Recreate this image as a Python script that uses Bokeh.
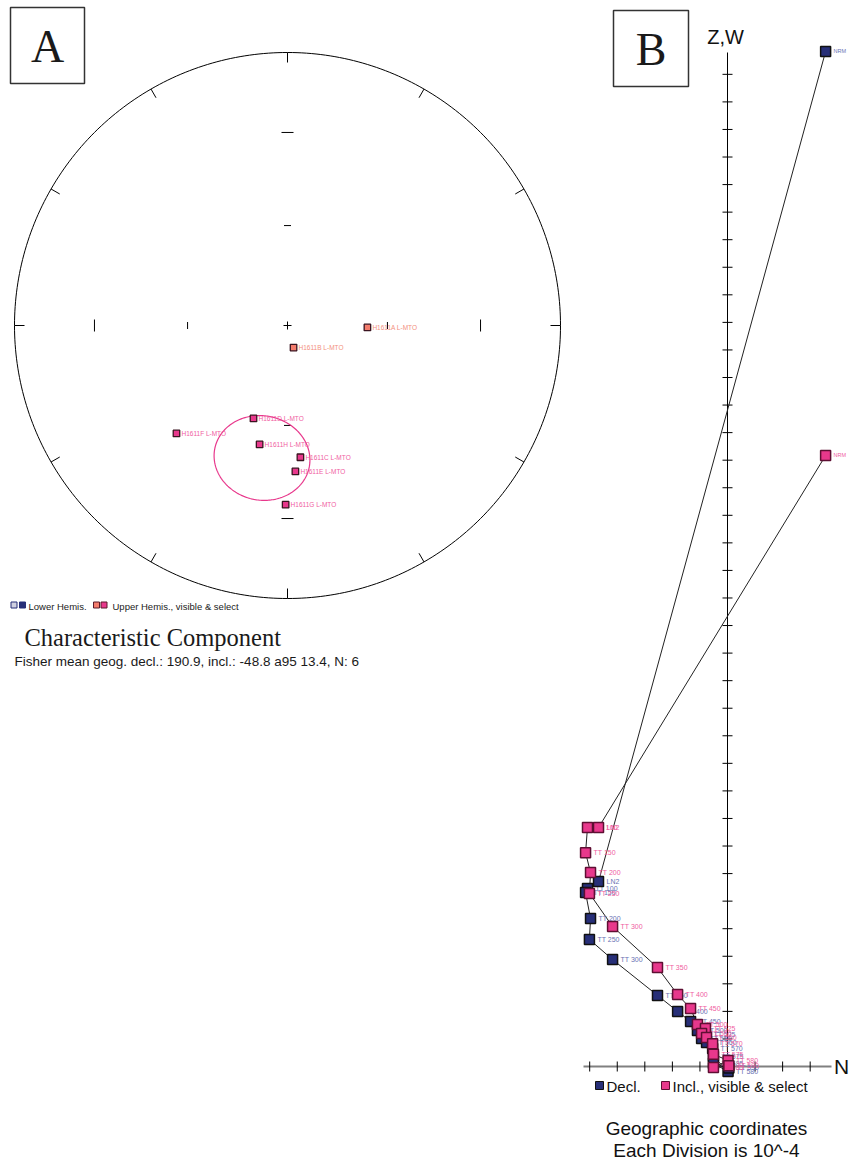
import numpy as np
from bokeh.plotting import figure
from bokeh.layouts import row
from bokeh.models import Range1d
from bokeh.core.properties import value
from bokeh.embed import file_html
from bokeh.resources import INLINE

# ---------------- Panel A data: characteristic component directions ----------------
specimens = ["H1611A L-MTO", "H1611B L-MTO", "H1611D L-MTO", "H1611F L-MTO",
             "H1611H L-MTO", "H1611C L-MTO", "H1611E L-MTO", "H1611G L-MTO"]
spec_dec = [91.4, 164.7, 200.1, 225.8, 193.2, 174.4, 176.9, 180.6]
spec_inc = [-66.1, -83.2, -60.3, -42.7, -53.1, -49.9, -45.5, -34.7]
spec_used = [False, False, True, True, True, True, True, True]
mean_dec = 190.9
mean_inc = -48.8
mean_a95 = 13.4
mean_n = 6

# ---------------- Panel B data: Zijderveld diagram (units of 10^-4) ----------------
steps = ["NRM", "LN2", "TT 100", "TT 150", "TT 200", "TT 250", "TT 300", "TT 350",
         "TT 400", "TT 450", "TT 500", "TT 525", "TT 550", "TT 560", "TT 570",
         "TT 575", "TT 580", "TT 585", "TT 590"]
north = [3.56, -4.68, -5.08, -5.15, -4.97, -5.01, -4.17, -2.54,
         -1.81, -1.34, -1.09, -0.80, -0.94, -0.76, -0.54,
         -0.51, 0.02, -0.51, 0.05]
west = [36.83, 6.71, 6.46, 6.31, 5.37, 4.61, 3.88, 2.58,
        2.00, 1.63, 1.31, 1.16, 1.02, 0.87, 0.65,
        0.36, -0.18, 0.11, -0.05]
vert_z = [22.17, 8.67, 8.67, 7.76, 7.04, 6.28, 5.08, 3.59,
          2.61, 2.10, 1.52, 1.38, 1.20, 1.05, 0.83,
          0.44, 0.22, -0.04, 0.03]
zij_ticks_n = [-5, -4, -3, -2, -1, 1, 2, 3]
zij_ticks_v = list(range(1, 37))

NAVY = "#272f78"
PINK = "#e8388c"
PINK_EDGE = "#5e0f33"
SALMON = "#f47c6c"
BLUE_TXT = "#6a72b4"
PINK_TXT = "#f0609f"
SALMON_TXT = "#f3907e"
SANS = value("Liberation Sans")
SERIF = value("Liberation Serif")

H = 1162

# ======================= Panel A (stereonet) =======================
R_PX = 273.0
CX, CY = 287.0, 325.0
def ax(px):
    return (px - CX) / R_PX
def ay(py):
    return (CY - py) / R_PX

pA = figure(width=578, height=H, x_range=Range1d(ax(0), ax(578)),
            y_range=Range1d(ay(H), ay(0)), output_backend="svg",
            toolbar_location=None, min_border=0,
            x_axis_location=None, y_axis_location=None)
pA.grid.visible = False
pA.outline_line_color = None

def eqarea(d, i):
    d = np.radians(np.asarray(d, dtype=float))
    i = np.asarray(i, dtype=float)
    r = np.sqrt(2.0) * np.sin(np.radians(90.0 - np.abs(i)) / 2.0)
    return r * np.sin(d), r * np.cos(d)

# primitive circle
t = np.linspace(0, 2 * np.pi, 361)
pA.line(np.cos(t), np.sin(t), line_color="black", line_width=1)
# ticks every 30 degrees on primitive
tk = 10 / R_PX
xs, ys = [], []
for az in range(0, 360, 30):
    a = np.radians(az)
    xs.append([np.sin(a), (1 - tk) * np.sin(a)])
    ys.append([np.cos(a), (1 - tk) * np.cos(a)])
pA.multi_line(xs, ys, line_color="black", line_width=1)
# inclination ticks on the axes (30 and 60 degrees)
xs, ys = [], []
for incl, ln in [(30, 12), (60, 7)]:
    r = np.sqrt(2.0) * np.sin(np.radians(90 - incl) / 2)
    h = ln / 2 / R_PX
    for s in (-1, 1):
        xs.append([s * r, s * r]); ys.append([-h, h])
        xs.append([-h, h]); ys.append([s * r, s * r])
pA.multi_line(xs, ys, line_color="black", line_width=1)
pA.scatter([0], [0], marker="cross", size=8, line_color="black", line_width=1)

# a95 circle around mean
Dm, Im = np.radians(mean_dec), np.radians(mean_inc)
m = np.array([np.cos(Im) * np.cos(Dm), np.cos(Im) * np.sin(Dm), np.sin(Im)])
u = np.cross(m, [0, 0, 1.0]); u /= np.linalg.norm(u)
v = np.cross(m, u)
aa = np.radians(mean_a95)
tt = np.linspace(0, 2 * np.pi, 241)
pts = np.cos(aa) * m[:, None] + np.sin(aa) * (np.cos(tt) * u[:, None] + np.sin(tt) * v[:, None])
cdec = np.degrees(np.arctan2(pts[1], pts[0]))
cinc = np.degrees(np.arcsin(pts[2]))
ex, ey = eqarea(cdec, cinc)
pA.line(ex, ey, line_color=PINK, line_width=1.2)

# specimen directions
sx, sy = eqarea(spec_dec, spec_inc)
fills = [PINK if s else SALMON for s in spec_used]
tcols = [PINK_TXT if s else SALMON_TXT for s in spec_used]
pA.text(sx, sy, text=specimens, text_color=tcols, text_font=SANS, text_font_size="6.5px",
        text_baseline="middle", text_align="left", x_offset=5)
pA.scatter(sx, sy, marker="square", size=6.5, fill_color=fills,
           line_color="#3a1420", line_width=1.3)

# legend A
pA.scatter([ax(13.5), ax(22)], [ay(604.5)] * 2, marker="square", size=6,
           fill_color=["#d0d0e0", NAVY], line_color=NAVY, line_width=1)
pA.scatter([ax(96), ax(103.5)], [ay(604.5)] * 2, marker="square", size=6,
           fill_color=[SALMON, PINK], line_color="#5a1a2a", line_width=1)
pA.text([ax(28)], [ay(606)], text=["Lower Hemis."], text_font=SANS, text_font_size="9.5px",
        text_color="#222222", text_baseline="middle")
pA.text([ax(112)], [ay(606)], text=["Upper Hemis., visible & select"], text_font=SANS,
        text_font_size="9.5px", text_color="#222222", text_baseline="middle")
pA.text([ax(24)], [ay(637)], text=["Characteristic Component"], text_font=SERIF,
        text_font_size="24.5px", text_color="#1a1a1a", text_baseline="middle")
pA.text([ax(14)], [ay(661)],
        text=[f"Fisher mean geog. decl.: {mean_dec}, incl.: {mean_inc} a95 {mean_a95}, N: {mean_n}"],
        text_font=SANS, text_font_size="13.5px", text_color="#1a1a1a", text_baseline="middle")
# box "A"
pA.quad(left=[ax(10)], right=[ax(84)], top=[ay(7)], bottom=[ay(83)],
        fill_color=None, line_color="#333333", line_width=1.5)
pA.text([ax(47)], [ay(46)], text=["A"], text_font=SERIF, text_font_size="46px",
        text_color="#1a1a1a", text_align="center", text_baseline="middle")

# ======================= Panel B (Zijderveld) =======================
D = 27.56
OX, OY = 727.0, 1066.0
def bx(px):
    return (px - OX) / D
def by(py):
    return (OY - py) / D

pB = figure(width=275, height=H, x_range=Range1d(bx(578), bx(853)),
            y_range=Range1d(by(H), by(0)), output_backend="svg",
            toolbar_location=None, min_border=0,
            x_axis_location=None, y_axis_location=None)
pB.grid.visible = False
pB.outline_line_color = None

# axes
pB.line([bx(583), bx(831)], [0, 0], line_color="#808080", line_width=2)
pB.line([0, 0], [by(1075), by(52)], line_color="black", line_width=1)
h = 5 / D
pB.multi_line([[n, n] for n in zij_ticks_n], [[-h, h] for _ in zij_ticks_n],
              line_color="black", line_width=1)
pB.multi_line([[-h, h] for _ in zij_ticks_v], [[z, z] for z in zij_ticks_v],
              line_color="black", line_width=1)
pB.text([bx(841)], [0], text=["N"], text_font=SANS, text_font_size="21px",
        text_color="#111111", text_align="center", text_baseline="middle")
pB.text([bx(725)], [by(36)], text=["Z,W"], text_font=SANS, text_font_size="20px",
        text_color="#111111", text_align="center", text_baseline="middle")

# connecting lines
pB.line(north, west, line_color="#222222", line_width=1)
pB.line(north, vert_z, line_color="#222222", line_width=1)

# labels
lab_sizes = ["5.5px" if s == "NRM" else "7px" for s in steps]
pB.text(north, west, text=steps, text_color=BLUE_TXT, text_font=SANS,
        text_font_size=lab_sizes, text_baseline="middle", x_offset=8)
pB.text(north, vert_z, text=steps, text_color=PINK_TXT, text_font=SANS,
        text_font_size=lab_sizes, text_baseline="middle", x_offset=8)
# squares
pB.scatter(north, west, marker="square", size=10, fill_color=NAVY,
           line_color="#111111", line_width=1.5)
pB.scatter(north, vert_z, marker="square", size=10, fill_color=PINK,
           line_color=PINK_EDGE, line_width=1.5)

# legend B
pB.scatter([bx(599)], [by(1085)], marker="square", size=8, fill_color=NAVY,
           line_color="#111111", line_width=1)
pB.scatter([bx(665)], [by(1085)], marker="square", size=8, fill_color=PINK,
           line_color=PINK_EDGE, line_width=1)
pB.text([bx(606)], [by(1086)], text=["Decl."], text_font=SANS, text_font_size="15px",
        text_color="#111111", text_baseline="middle")
pB.text([bx(672)], [by(1086)], text=["Incl., visible & select"], text_font=SANS,
        text_font_size="15px", text_color="#111111", text_baseline="middle")
pB.text([bx(706)], [by(1128)], text=["Geographic coordinates"], text_font=SANS,
        text_font_size="19px", text_color="#111111", text_align="center", text_baseline="middle")
pB.text([bx(706)], [by(1150)], text=["Each Division is 10^-4"], text_font=SANS,
        text_font_size="19px", text_color="#111111", text_align="center", text_baseline="middle")
# box "B"
pB.quad(left=[bx(613)], right=[bx(688)], top=[by(10)], bottom=[by(86)],
        fill_color=None, line_color="#333333", line_width=1.5)
pB.text([bx(650.5)], [by(49)], text=["B"], text_font=SERIF, text_font_size="46px",
        text_color="#1a1a1a", text_align="center", text_baseline="middle")

layout = row(pA, pB)
open("out.html", "w").write(file_html(layout, INLINE))
